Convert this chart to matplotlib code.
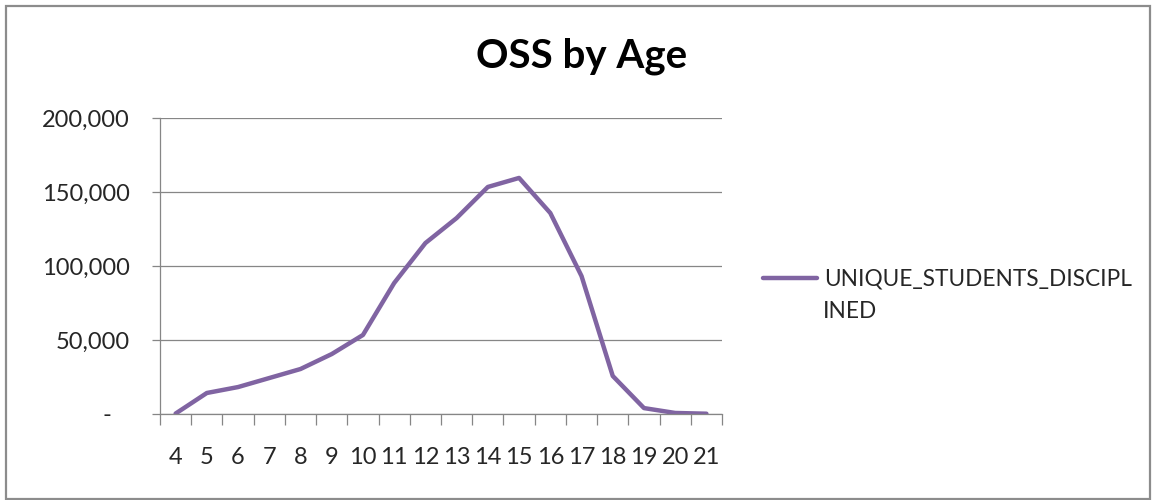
import matplotlib
matplotlib.use("Agg")
import matplotlib.pyplot as plt
from matplotlib.ticker import FuncFormatter, FixedLocator
from matplotlib.patches import Rectangle

plt.rcParams['font.family'] = ['Lato', 'DejaVu Sans']

# Data
ages = ['4', '5', '6', '7', '8', '9', '10', '11', '12', '13', '14',
        '15', '16', '17', '18', '19', '20', '21']
students = [300, 14200, 18200, 24300, 30400, 40500, 53400, 88500, 115500,
            132400, 153400, 159500, 135800, 93200, 25700, 4000, 700, 200]
series_name = 'UNIQUE_STUDENTS_DISCIPLINED'

line_color = '#8064A2'
grid_color = '#868686'

fig = plt.figure(figsize=(11.56, 5.0), dpi=100)
ax = fig.add_axes([0.1384, 0.172, 0.4862, 0.592])

xs = list(range(len(ages)))
line, = ax.plot(xs, students, color=line_color, linewidth=3.2,
                solid_joinstyle='round', solid_capstyle='round')

ax.set_xlim(-0.5, len(ages) - 0.5)
ax.set_ylim(0, 200000)

# y axis
ax.set_yticks([0, 50000, 100000, 150000, 200000])
ax.yaxis.set_major_formatter(FuncFormatter(
    lambda v, p: '-   ' if v == 0 else f'{int(v):,}'))
ax.yaxis.grid(True, color=grid_color, linewidth=0.9)
ax.tick_params(axis='y', length=6, width=0.9, color=grid_color,
               pad=16, labelsize=17, labelcolor='#262626')

# x axis: labels at categories, tick marks between categories
ax.set_xticks(xs)
ax.set_xticklabels(ages)
ax.xaxis.set_minor_locator(FixedLocator([i - 0.5 for i in range(len(ages) + 1)]))
ax.tick_params(axis='x', which='major', length=0, pad=24,
               labelsize=17, labelcolor='#262626')
ax.tick_params(axis='x', which='minor', length=8, width=0.9, color=grid_color)

for side in ['top', 'right']:
    ax.spines[side].set_visible(False)
for side in ['left', 'bottom']:
    ax.spines[side].set_color(grid_color)
    ax.spines[side].set_linewidth(0.9)
ax.set_axisbelow(True)

# title
fig.text(0.503, 0.888, 'OSS by Age', ha='center', va='center',
         fontsize=29, fontweight='bold', color='black')

# legend, text wraps like the original
leg = fig.legend([line], [series_name[:23]], loc='center left',
                 bbox_to_anchor=(0.660, 0.442), frameon=False,
                 borderaxespad=0, borderpad=0,
                 handlelength=2.4, handletextpad=0.3, fontsize=16.3)
for t in leg.get_texts():
    t.set_color('#262626')
fig.text(0.712, 0.378, series_name[23:], ha='left', va='center',
         fontsize=16.3, color='#262626')

# chart border
fig.patches.append(Rectangle((0.005, 0.003), 0.99, 0.985,
                             transform=fig.transFigure, fill=False,
                             edgecolor='#8c8c8c', linewidth=1.6))

fig.savefig('out.png', dpi=100)
